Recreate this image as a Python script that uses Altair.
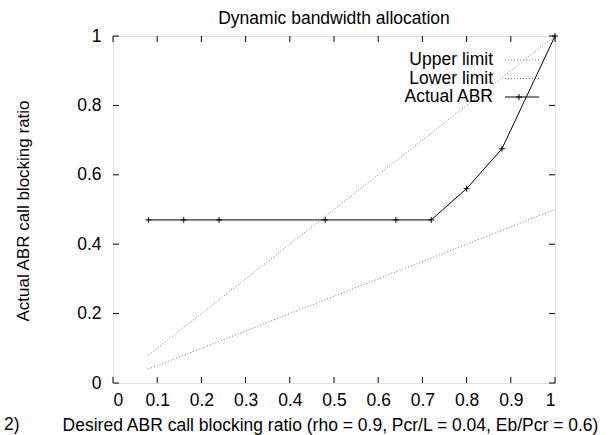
import altair as alt
import pandas as pd

# ---- data ----
abr_x = [0.08, 0.16, 0.24, 0.48, 0.64, 0.72, 0.80, 0.88, 1.0]
abr_y = [0.47, 0.47, 0.47, 0.47, 0.47, 0.47, 0.56, 0.675, 1.0]
upper_x = [0.08, 1.0]
upper_y = [0.08, 1.0]
lower_x = [0.08, 1.0]
lower_y = [0.04, 0.5]
x_ticks = [0, 0.1, 0.2, 0.3, 0.4, 0.5, 0.6, 0.7, 0.8, 0.9, 1.0]
y_ticks = [0, 0.2, 0.4, 0.6, 0.8, 1.0]
legend_labels = ["Upper limit", "Lower limit", "Actual ABR"]

W, H = 442, 347
FONT = "Liberation Sans"
FS = 17.5

abr = pd.DataFrame({"x": abr_x, "y": abr_y})
upper = pd.DataFrame({"x": upper_x, "y": upper_y})
lower = pd.DataFrame({"x": lower_x, "y": lower_y})
xt = pd.DataFrame({"x": x_ticks})
yt = pd.DataFrame({"y": y_ticks})

xs = alt.Scale(domain=[0, 1], nice=False, zero=False)
ys = alt.Scale(domain=[0, 1], nice=False, zero=False)

xaxis = alt.Axis(values=x_ticks, format="~g", ticks=False, domain=False, grid=False,
                 labelPadding=8, labelFontSize=FS, labelFont=FONT, labelColor="black",
                 title="Desired ABR call blocking ratio (rho = 0.9, Pcr/L = 0.04, Eb/Pcr = 0.6)",
                 titleFontSize=FS, titleFont=FONT, titleFontWeight="normal", titleColor="black",
                 titleX=W / 2 - 4, titleY=47, titleAlign="center", titleBaseline="alphabetic")
yaxis = alt.Axis(values=y_ticks, format="~g", ticks=False, domain=False, grid=False,
                 labelPadding=12, labelFontSize=FS, labelFont=FONT, labelColor="black",
                 title="Actual ABR call blocking ratio",
                 titleFontSize=17, titleFont=FONT, titleFontWeight="normal", titleColor="black",
                 titleX=-85, titleY=H / 2 + 1, titleAngle=270, titleAlign="center",
                 titleBaseline="alphabetic")

X = lambda: alt.X("x:Q", scale=xs, axis=xaxis)
Y = lambda: alt.Y("y:Q", scale=ys, axis=yaxis)

dotted = dict(color="#777777", strokeWidth=1, strokeDash=[1, 2])

upper_line = alt.Chart(upper).mark_line(**dotted).encode(x=X(), y=Y())
lower_line = alt.Chart(lower).mark_line(**dotted).encode(x=X(), y=Y())
abr_line = alt.Chart(abr).mark_line(color="black", strokeWidth=1).encode(x=X(), y=Y())
plus = "M-1,0L1,0M0,-1L0,1"
abr_pts = alt.Chart(abr).mark_point(shape=plus, filled=False, stroke="black",
                                     strokeWidth=1, size=36, opacity=1).encode(x=X(), y=Y())

# inward ticks on all four sides
tb = alt.Chart(xt).mark_rule(color="black", strokeWidth=1).encode(
    x=X(), y=alt.value(H), y2=alt.value(H - 6))
tt = alt.Chart(xt).mark_rule(color="black", strokeWidth=1).encode(
    x=X(), y=alt.value(0), y2=alt.value(6))
tl = alt.Chart(yt).mark_rule(color="black", strokeWidth=1).encode(
    y=Y(), x=alt.value(0), x2=alt.value(6))
tr = alt.Chart(yt).mark_rule(color="black", strokeWidth=1).encode(
    y=Y(), x=alt.value(W), x2=alt.value(W - 6))

# legend
ly = [24, 42.5, 61]
def leg_text(i):
    return alt.Chart(pd.DataFrame({"label": [legend_labels[i]]})).mark_text(
        align="right", baseline="middle", fontSize=FS, font=FONT, color="black").encode(
        x=alt.value(380), y=alt.value(ly[i]), text="label:N")

one = pd.DataFrame({"a": [0]})
leg_up = alt.Chart(one).mark_rule(**dotted).encode(
    x=alt.value(392), x2=alt.value(426), y=alt.value(ly[0]))
leg_lo = alt.Chart(one).mark_rule(**dotted).encode(
    x=alt.value(392), x2=alt.value(426), y=alt.value(ly[1]))
leg_abr = alt.Chart(one).mark_rule(color="black", strokeWidth=1).encode(
    x=alt.value(392), x2=alt.value(426), y=alt.value(ly[2]))
leg_pt = alt.Chart(one).mark_point(shape=plus, filled=False, stroke="black",
                                   strokeWidth=1, size=36, opacity=1).encode(
    x=alt.value(406), y=alt.value(ly[2]))

fig = alt.Chart(pd.DataFrame({"t": ["2)"]})).mark_text(
    align="left", baseline="alphabetic", fontSize=FS, font=FONT, color="black").encode(
    x=alt.value(-109), y=alt.value(H + 47), text="t:N")

chart = alt.layer(
    upper_line, lower_line, abr_line, abr_pts, tb, tt, tl, tr,
    leg_text(0), leg_text(1), leg_text(2), leg_up, leg_lo, leg_abr, leg_pt, fig
).properties(
    width=W, height=H,
    title=alt.Title("Dynamic bandwidth allocation", fontSize=FS, font=FONT,
                    fontWeight="normal", color="black", offset=0),
    autosize=alt.AutoSizeParams(type="none"),
    padding={"left": 113, "top": 36, "right": 57, "bottom": 52},
).configure_view(stroke="black", strokeWidth=1).configure(background="white")

chart.save("out.html", embed_options={"renderer": "svg", "actions": False})
